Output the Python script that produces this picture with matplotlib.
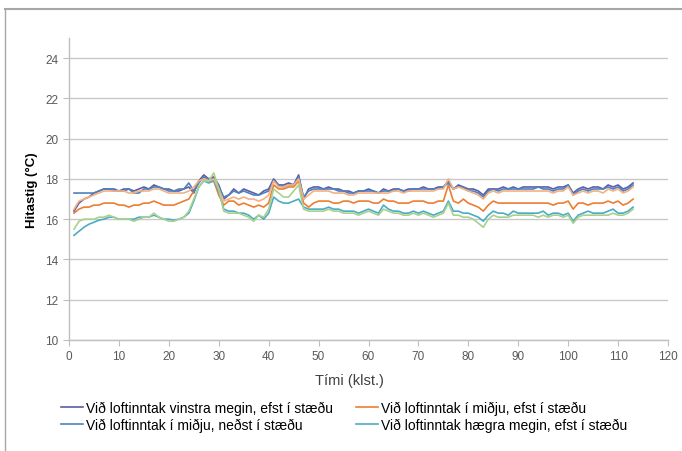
import numpy as np
import matplotlib
matplotlib.use("Agg")
import matplotlib.pyplot as plt
from matplotlib.lines import Line2D

plt.rcParams['font.family'] = ['Liberation Sans', 'DejaVu Sans']

hours = np.arange(1, 114)

# hitastig (°C) mælt á klukkustundar fresti
vinstra_efst = [
    16.4, 16.8, 17.0, 17.1, 17.3, 17.4, 17.5, 17.5, 17.5, 17.4,
    17.5, 17.5, 17.4, 17.5, 17.6, 17.5, 17.7, 17.6, 17.5, 17.5,
    17.4, 17.4, 17.5, 17.6, 17.3, 17.9, 18.2, 18.0, 18.1, 17.7,
    17.0, 17.2, 17.5, 17.3, 17.5, 17.4, 17.3, 17.2, 17.4, 17.5,
    18.0, 17.7, 17.7, 17.8, 17.7, 18.2, 17.0, 17.5, 17.6, 17.6,
    17.5, 17.6, 17.5, 17.5, 17.4, 17.4, 17.3, 17.4, 17.4, 17.5,
    17.4, 17.3, 17.5, 17.4, 17.5, 17.5, 17.4, 17.5, 17.5, 17.5,
    17.6, 17.5, 17.5, 17.6, 17.6, 17.9, 17.5, 17.7, 17.6, 17.5,
    17.5, 17.4, 17.2, 17.5, 17.5, 17.5, 17.6, 17.5, 17.6, 17.5,
    17.6, 17.6, 17.6, 17.6, 17.6, 17.6, 17.5, 17.6, 17.6, 17.7,
    17.3, 17.5, 17.6, 17.5, 17.6, 17.6, 17.5, 17.7, 17.6, 17.7,
    17.5, 17.6, 17.8]
midja_efst = [
    16.3, 16.5, 16.6, 16.6, 16.7, 16.7, 16.8, 16.8, 16.8, 16.7,
    16.7, 16.6, 16.7, 16.7, 16.8, 16.8, 16.9, 16.8, 16.7, 16.7,
    16.7, 16.8, 16.9, 17.0, 17.4, 17.9, 18.0, 17.9, 17.9, 17.2,
    16.7, 16.9, 16.9, 16.7, 16.8, 16.7, 16.6, 16.7, 16.6, 16.8,
    17.7, 17.5, 17.5, 17.6, 17.6, 17.9, 16.8, 16.6, 16.8, 16.9,
    16.9, 16.9, 16.8, 16.8, 16.9, 16.9, 16.8, 16.9, 16.9, 16.9,
    16.8, 16.8, 17.0, 16.9, 16.9, 16.8, 16.8, 16.8, 16.9, 16.9,
    16.9, 16.8, 16.8, 16.9, 16.9, 17.7, 16.9, 16.8, 17.0, 16.8,
    16.7, 16.6, 16.4, 16.7, 16.9, 16.8, 16.8, 16.8, 16.8, 16.8,
    16.8, 16.8, 16.8, 16.8, 16.8, 16.8, 16.7, 16.8, 16.8, 16.9,
    16.5, 16.8, 16.8, 16.7, 16.8, 16.8, 16.8, 16.9, 16.8, 16.9,
    16.7, 16.8, 17.0]
midja_nedst = [
    17.3, 17.3, 17.3, 17.3, 17.3, 17.4, 17.5, 17.5, 17.4, 17.4,
    17.4, 17.5, 17.3, 17.3, 17.5, 17.5, 17.6, 17.6, 17.5, 17.4,
    17.4, 17.5, 17.5, 17.8, 17.4, 17.8, 18.1, 18.0, 18.0, 17.6,
    17.1, 17.2, 17.4, 17.3, 17.4, 17.3, 17.2, 17.2, 17.3, 17.4,
    17.9, 17.7, 17.6, 17.7, 17.7, 18.1, 17.1, 17.4, 17.5, 17.5,
    17.5, 17.5, 17.5, 17.4, 17.4, 17.3, 17.3, 17.4, 17.4, 17.4,
    17.4, 17.3, 17.4, 17.4, 17.4, 17.5, 17.4, 17.4, 17.5, 17.5,
    17.5, 17.5, 17.5, 17.5, 17.6, 17.8, 17.5, 17.6, 17.6, 17.4,
    17.4, 17.3, 17.1, 17.4, 17.5, 17.4, 17.5, 17.5, 17.5, 17.5,
    17.5, 17.5, 17.5, 17.6, 17.5, 17.5, 17.4, 17.5, 17.5, 17.7,
    17.2, 17.4, 17.5, 17.4, 17.5, 17.5, 17.5, 17.6, 17.5, 17.6,
    17.4, 17.5, 17.7]
haegra_efst = [
    15.2, 15.4, 15.6, 15.75, 15.85, 15.95, 16.0, 16.1, 16.1, 16.0,
    16.0, 16.0, 16.0, 16.1, 16.1, 16.1, 16.2, 16.1, 16.0, 16.0,
    15.95, 16.0, 16.1, 16.3, 16.9, 17.6, 17.9, 17.8, 17.9, 17.4,
    16.5, 16.4, 16.4, 16.3, 16.3, 16.2, 16.0, 16.2, 16.0, 16.3,
    17.1, 16.9, 16.8, 16.8, 16.9, 17.0, 16.6, 16.5, 16.5, 16.5,
    16.5, 16.6, 16.5, 16.5, 16.4, 16.4, 16.4, 16.3, 16.4, 16.5,
    16.4, 16.3, 16.7, 16.5, 16.4, 16.4, 16.3, 16.3, 16.4, 16.3,
    16.4, 16.3, 16.2, 16.3, 16.4, 16.9, 16.4, 16.4, 16.3, 16.3,
    16.2, 16.1, 15.9, 16.2, 16.4, 16.3, 16.3, 16.2, 16.4, 16.3,
    16.3, 16.3, 16.3, 16.3, 16.4, 16.2, 16.3, 16.3, 16.2, 16.3,
    15.9, 16.2, 16.3, 16.4, 16.3, 16.3, 16.3, 16.4, 16.5, 16.3,
    16.3, 16.4, 16.6]
# tveir mælar til viðbótar sem ekki eru í skýringum
aukamaelir_1 = [
    16.5, 16.9, 17.0, 17.1, 17.2, 17.3, 17.4, 17.4, 17.4, 17.4,
    17.4, 17.3, 17.3, 17.4, 17.4, 17.4, 17.5, 17.5, 17.4, 17.3,
    17.3, 17.3, 17.3, 17.4, 17.6, 17.9, 18.0, 17.9, 18.0, 17.5,
    16.9, 17.0, 17.1, 17.0, 17.1, 17.0, 17.0, 16.9, 17.0, 17.2,
    17.9, 17.6, 17.6, 17.7, 17.7, 18.0, 17.0, 17.2, 17.4, 17.4,
    17.4, 17.4, 17.3, 17.3, 17.3, 17.2, 17.2, 17.3, 17.3, 17.3,
    17.3, 17.3, 17.3, 17.3, 17.4, 17.4, 17.3, 17.4, 17.4, 17.4,
    17.4, 17.4, 17.4, 17.5, 17.5, 18.0, 17.5, 17.6, 17.5, 17.4,
    17.3, 17.2, 17.0, 17.3, 17.4, 17.3, 17.4, 17.4, 17.4, 17.4,
    17.4, 17.4, 17.4, 17.4, 17.4, 17.4, 17.3, 17.4, 17.4, 17.6,
    17.2, 17.3, 17.4, 17.3, 17.4, 17.4, 17.3, 17.5, 17.4, 17.5,
    17.3, 17.4, 17.6]
aukamaelir_2 = [
    15.5, 15.9, 16.0, 16.0, 16.0, 16.1, 16.1, 16.2, 16.1, 16.0,
    16.0, 16.0, 15.9, 16.0, 16.1, 16.1, 16.3, 16.1, 16.0, 15.9,
    15.9, 16.0, 16.1, 16.4, 17.0, 17.6, 17.9, 17.9, 18.3, 17.5,
    16.4, 16.3, 16.3, 16.3, 16.2, 16.1, 15.9, 16.2, 16.1, 16.5,
    17.5, 17.3, 17.1, 17.1, 17.4, 17.7, 16.5, 16.4, 16.4, 16.4,
    16.4, 16.5, 16.4, 16.4, 16.3, 16.3, 16.3, 16.2, 16.3, 16.4,
    16.3, 16.2, 16.5, 16.4, 16.3, 16.3, 16.2, 16.2, 16.3, 16.2,
    16.3, 16.2, 16.1, 16.2, 16.3, 16.8, 16.2, 16.2, 16.1, 16.1,
    16.0, 15.8, 15.6, 16.0, 16.2, 16.1, 16.1, 16.1, 16.2, 16.2,
    16.2, 16.2, 16.2, 16.1, 16.2, 16.1, 16.2, 16.2, 16.1, 16.2,
    15.8, 16.1, 16.2, 16.2, 16.2, 16.2, 16.2, 16.2, 16.3, 16.2,
    16.2, 16.3, 16.5]

labels = ['Við loftinntak vinstra megin, efst í stæðu',
          'Við loftinntak í miðju, efst í stæðu',
          'Við loftinntak í miðju, neðst í stæðu',
          'Við loftinntak hægra megin, efst í stæðu']

fig = plt.figure(figsize=(6.82, 4.52), dpi=100)
ax = fig.add_axes([69/682, 1 - 341/452, 599/682, 302/452])

series = [(vinstra_efst, '#5a5ea8'), (midja_efst, '#ed7d31'),
          (midja_nedst, '#4f81bd'), (haegra_efst, '#4bacc6'),
          (aukamaelir_1, '#f4b183'), (aukamaelir_2, '#a9d18e')]
for vals, col in series:
    ax.plot(hours, vals, color=col, lw=1.2, solid_joinstyle='round')

ax.set_xlim(0, 120)
ax.set_ylim(10, 25)
ax.set_xticks(np.arange(0, 121, 10))
ax.set_yticks(np.arange(10, 25, 2))
ax.grid(axis='y', color='#c8c8c8', lw=1)
ax.set_axisbelow(True)
for s in ['top', 'right']:
    ax.spines[s].set_visible(False)
for s in ['left', 'bottom']:
    ax.spines[s].set_color('#bfbfbf')
    ax.spines[s].set_linewidth(1)
ax.tick_params(colors='#bfbfbf', labelcolor='#595959', labelsize=8.5, length=4)
ax.tick_params(axis='x', pad=3)

ax.set_ylabel('Hitastig (°C)', fontsize=9.5, fontweight='bold', labelpad=5)
fig.text(349/682, 1 - 381/452, 'Tími (klst.)', ha='center', va='center',
         fontsize=10.5, color='#404040')

handles = [Line2D([], [], color=series[i][1], lw=1.2) for i in [0, 2, 1, 3]]
fig.legend(handles, [labels[i] for i in [0, 2, 1, 3]], ncol=2, frameon=False,
           loc='upper left', bbox_to_anchor=(55/682, 1 - 396/452),
           fontsize=10, handlelength=1.6, handletextpad=0.2,
           columnspacing=1.7, labelspacing=0.2, borderaxespad=0)

# rammi utan um myndina
fig.add_artist(Line2D([5/682, 5/682], [0, 1 - 10/452], color='#a6a6a6', lw=1))
fig.add_artist(Line2D([5/682, 1], [1 - 10/452, 1 - 10/452], color='#a6a6a6', lw=1.5))

fig.savefig('out.png', dpi=100)
